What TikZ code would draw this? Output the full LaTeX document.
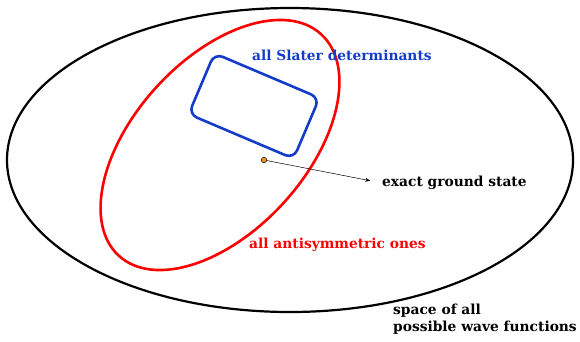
\documentclass[tikz,border=0pt]{standalone}
\usepackage{fontspec}
\setmainfont{DejaVu Serif}
\usetikzlibrary{arrows.meta}
\definecolor{slaterblue}{RGB}{20,60,200}
\definecolor{dotorange}{RGB}{245,150,30}
\begin{document}
\begin{tikzpicture}
[
    x=1pt, y=1pt,
    tag/.style={font=\bfseries\fontsize{13.8}{16.5}\selectfont, anchor=west, inner sep=0pt}
]
    \useasboundingbox (0,0) rectangle (580,-341);

    % the three sets
    \draw [line width=2.2] (290,-160) ellipse [x radius=283pt, y radius=152pt];
    \draw [red, line width=2.6, rotate around={47.6:(220,-145)}]
        (220,-145) ellipse [x radius=150pt, y radius=86pt];
    \node (slater) [draw=slaterblue, line width=2.6, rounded corners=9pt,
        minimum width=114pt, minimum height=66pt, rotate=-23] at (254,-106) {};

    % ground state
    \node (gs) [circle, draw, fill=dotorange, inner sep=0pt, minimum size=5.5pt,
        line width=0.5] at (264,-160) {};
    \node (gslabel) [tag] at (382,-183) {exact ground state};
    \draw [-{Stealth[length=5pt,width=4pt]}, line width=0.5, shorten >=12pt]
        (gs) -- (gslabel.west);

    % labels
    \node (slaterlabel) [tag, text=slaterblue] at (252,-55) {all Slater determinants};
    \node (antilabel) [tag, text=red] at (249,-245) {all antisymmetric ones};
    \node (spacelabel) [tag, align=left] at (393,-319) {space of all\\possible wave functions};
\end{tikzpicture}
\end{document}
